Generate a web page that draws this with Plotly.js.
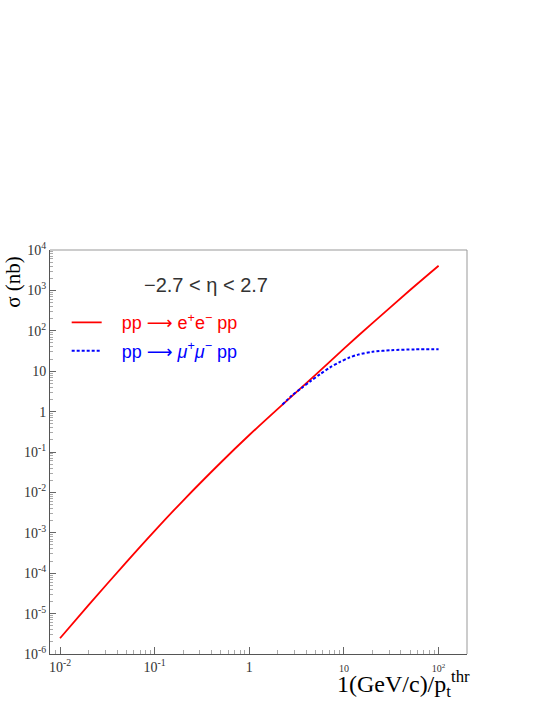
<!DOCTYPE html>
<html>
<head>
<meta charset="utf-8">
<script src="https://cdn.plot.ly/plotly-3.0.1.min.js"></script>
<style>body{margin:0;background:#fff}</style>
</head>
<body>
<div id="plot" style="width:545px;height:705px"></div>
<script>
// pp -> e+e- pp, sigma (nb) vs 1/pt threshold
const eeX = [0.01, 0.02, 0.05, 0.1, 0.2, 0.5, 1, 2, 5, 10, 20, 50, 100];
const eeY = [2.45e-6, 1.62e-5, 1.86e-4, 1.12e-3, 6.3e-3, 0.055, 0.263, 1.17, 8.1, 36.3, 155, 1020, 4070];

// pp -> mu+mu- pp
const mumuX = [2.24, 2.82, 3.55, 4.47, 5.62, 7.08, 8.91, 11.2, 14.1, 20, 31.6, 56, 100];
const mumuY = [1.5, 2.51, 3.8, 5.75, 8.5, 12.3, 16.6, 21.4, 25.7, 30.2, 33.1, 34.7, 35.1];

const xTickVals = [0.01, 0.1, 1, 10, 100];
const xTickText = ['10<sup>-2</sup>', '10<sup>-1</sup>', '1',
  '<span style="font-size:10px">10</span>',
  '<span style="font-size:10px">10<sup>2</sup></span>'];
const yTickVals = [1e-6, 1e-5, 1e-4, 1e-3, 1e-2, 1e-1, 1, 10, 100, 1e3, 1e4];
const yTickText = ['10<sup>-6</sup>', '10<sup>-5</sup>', '10<sup>-4</sup>', '10<sup>-3</sup>',
  '10<sup>-2</sup>', '10<sup>-1</sup>', '1', '10', '10<sup>2</sup>', '10<sup>3</sup>', '10<sup>4</sup>'];

// minor tick positions 2..9 per decade
const minorVals = [];
for (let e = -7; e <= 4; e++) {
  for (let m = 2; m <= 9; m++) minorVals.push(m * Math.pow(10, e));
}

const serif = 'Liberation Serif, Times New Roman, serif';
const sans = 'Liberation Sans, Arial, sans-serif';
const arrow = '<span style="font-family:DejaVu Sans">\u27f6</span>';

const data = [
  {
    x: eeX, y: eeY,
    mode: 'lines',
    line: {color: '#ff0000', width: 1.8, shape: 'spline', smoothing: 0.8},
    name: '\u00a0\u00a0\u00a0pp ' + arrow + ' e<sup>+</sup>e<sup>\u2212</sup> pp',
    legend: 'legend'
  },
  {
    x: mumuX, y: mumuY,
    mode: 'lines',
    line: {color: '#0000ff', width: 2, dash: '3px,2px', shape: 'spline', smoothing: 0.8},
    name: '\u00a0\u00a0\u00a0pp ' + arrow + ' <i>\u03bc</i><sup>+</sup><i>\u03bc</i><sup>\u2212</sup> pp',
    legend: 'legend2'
  },
  // empty trace so the minor-tick overlay axes get drawn
  {x: [], y: [], xaxis: 'x2', yaxis: 'y2', mode: 'lines', showlegend: false, hoverinfo: 'skip'}
];

const axisCommon = {
  type: 'log',
  showgrid: false,
  zeroline: false,
  showline: true,
  linecolor: '#555',
  linewidth: 1,
  ticks: 'inside',
  tickcolor: '#666',
  tickmode: 'array',
  tickfont: {family: serif, size: 14, color: '#333'}
};

const minorCommon = {
  type: 'log',
  showgrid: false,
  zeroline: false,
  showline: false,
  ticks: 'inside',
  ticklen: 3,
  tickcolor: '#aaa',
  tickmode: 'array',
  tickvals: minorVals,
  showticklabels: false
};

const layout = {
  width: 545,
  height: 705,
  margin: {l: 50, r: 78, t: 250, b: 51},
  paper_bgcolor: '#fff',
  plot_bgcolor: '#fff',
  showlegend: true,
  xaxis: Object.assign({}, axisCommon, {
    range: [-2.106, 2.30],
    tickvals: xTickVals,
    ticktext: xTickText,
    ticklen: 7
  }),
  yaxis: Object.assign({}, axisCommon, {
    range: [-6, 4],
    tickvals: yTickVals,
    ticktext: yTickText,
    ticklen: 6
  }),
  xaxis2: Object.assign({}, minorCommon, {
    range: [-2.106, 2.30], overlaying: 'x', anchor: 'y', side: 'bottom', ticklen: 4
  }),
  yaxis2: Object.assign({}, minorCommon, {
    range: [-6, 4], overlaying: 'y', anchor: 'x', side: 'left'
  }),
  legend: {
    x: 0.04, y: 0.82, xanchor: 'left', yanchor: 'middle',
    bgcolor: 'rgba(0,0,0,0)', borderwidth: 0,
    font: {family: sans, size: 18, color: '#ff0000'}
  },
  legend2: {
    x: 0.04, y: 0.75, xanchor: 'left', yanchor: 'middle',
    bgcolor: 'rgba(0,0,0,0)', borderwidth: 0,
    font: {family: sans, size: 18, color: '#0000ff'}
  },
  shapes: [
    {type: 'line', xref: 'paper', yref: 'paper', x0: 0, x1: 1, y0: 1, y1: 1, line: {color: '#999', width: 1}},
    {type: 'line', xref: 'paper', yref: 'paper', x0: 1, x1: 1, y0: 0, y1: 1, line: {color: '#999', width: 1}}
  ],
  annotations: [
    {
      xref: 'paper', yref: 'paper', x: -0.089, y: 0.921,
      text: '\u03c3 (nb)', textangle: -90, showarrow: false,
      xanchor: 'center', yanchor: 'middle',
      font: {family: serif, size: 21, color: '#000'}
    },
    {
      xref: 'paper', yref: 'paper', x: 1.012, y: -0.074,
      text: '1(GeV/c)/p<sub>t</sub><sup>thr</sup>', showarrow: false,
      xanchor: 'right', yanchor: 'middle',
      font: {family: serif, size: 24, color: '#000'}
    },
    {
      xref: 'paper', yref: 'paper', x: 0.374, y: 0.913,
      text: '\u22122.7\u00a0<\u00a0\u03b7\u00a0<\u00a02.7', showarrow: false,
      xanchor: 'center', yanchor: 'middle',
      font: {family: sans, size: 20, color: '#333'}
    }
  ]
};

Plotly.newPlot('plot', data, layout, {displayModeBar: false, staticPlot: true});
</script>
</body>
</html>
